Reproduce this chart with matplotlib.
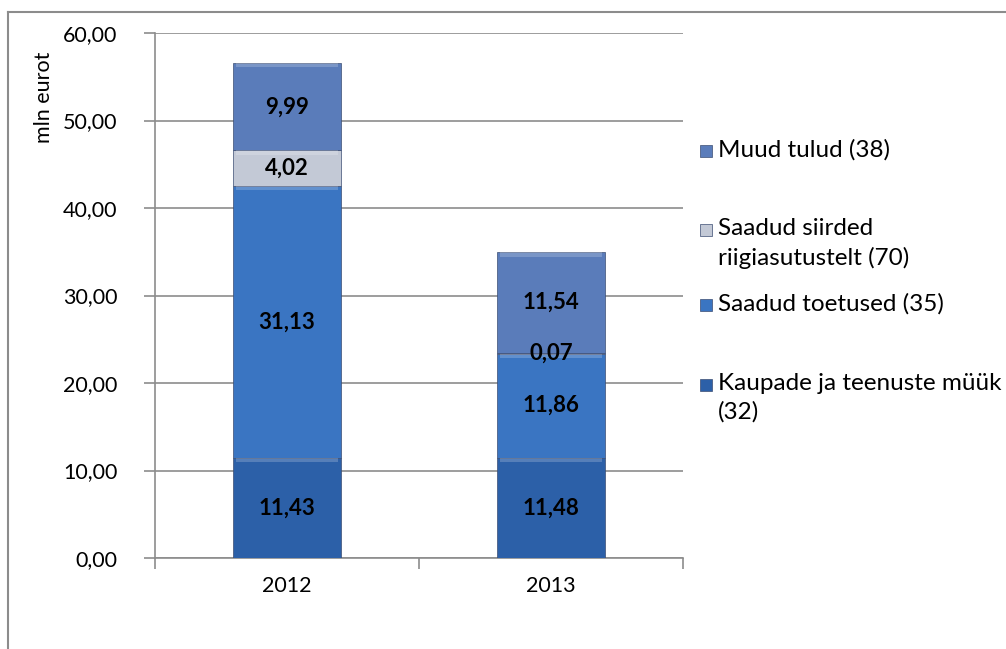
import matplotlib
matplotlib.use("Agg")
import matplotlib.pyplot as plt
import numpy as np
from matplotlib.patches import Rectangle

plt.rcParams['font.family'] = ['Lato', 'DejaVu Sans']

years = ["2012", "2013"]
series_names = [
    "Kaupade ja teenuste müük\n(32)",
    "Saadud toetused (35)",
    "Saadud siirded\nriigiasutustelt (70)",
    "Muud tulud (38)",
]
kaupade = [11.43, 11.48]
toetused = [31.13, 11.86]
siirded = [4.02, 0.07]
muud = [9.99, 11.54]
values = [kaupade, toetused, siirded, muud]
colors = ["#2c60a8", "#3a75c2", "#c3c9d6", "#5a7cba"]
yticks = [0, 10, 20, 30, 40, 50, 60]

W, H = 1006, 649
fig = plt.figure(figsize=(W / 100, H / 100), dpi=100)
ax = fig.add_axes([155 / W, 1 - 558 / H, (683 - 155) / W, (558 - 33) / H])

x = np.arange(len(years))
bottom = np.zeros(len(years))
bar_w = 0.41
for vals, col in zip(values, colors):
    bars = ax.bar(x, vals, bar_w, bottom=bottom, color=col,
                  edgecolor="#3b4d72", linewidth=0.5, zorder=3)
    for rect, v in zip(bars, vals):
        # soft bevel highlight along the top of each segment
        hx, hy = rect.get_x(), rect.get_y() + rect.get_height()
        hh = min(0.5, rect.get_height() * 0.3)
        ax.add_patch(Rectangle((hx + 0.01, hy - hh), rect.get_width() - 0.02, hh,
                               facecolor="white", alpha=0.2, linewidth=0, zorder=4))
        ax.text(rect.get_x() + rect.get_width() / 2, rect.get_y() + rect.get_height() / 2,
                f"{v:.2f}".replace(".", ","), ha="center", va="center",
                fontsize=16, fontweight="bold", color="black", zorder=5)
    bottom += np.array(vals)

ax.set_xlim(-0.5, 1.5)
ax.set_ylim(0, 60)
ax.set_yticks(yticks)
ax.set_yticklabels([f"{t:.2f}".replace(".", ",") for t in yticks], fontsize=15.5)
ax.set_xticks(x)
ax.set_xticklabels(years, fontsize=15.5)
ax.tick_params(axis="x", length=0, pad=13)
ax.set_xticks([-0.5, 0.5, 1.5], minor=True)
ax.tick_params(axis="x", which="minor", length=8, color="#8c8c8c", width=1.2)
ax.tick_params(axis="y", length=8, color="#8c8c8c", width=1.2, pad=19)
ax.yaxis.grid(True, color="#8c8c8c", linewidth=1.2, zorder=0)
ax.set_axisbelow(True)
for s in ["top", "right"]:
    ax.spines[s].set_visible(False)
for s in ["left", "bottom"]:
    ax.spines[s].set_color("#8c8c8c")
    ax.spines[s].set_linewidth(1.2)

fig.text(44 / W, 1 - 97 / H, "mln eurot", rotation=90, ha="center", va="center", fontsize=15.5)

# legend, top entry first
legend_y = [151, 230, 305, 385]
for name, col, ly in zip(series_names[::-1], colors[::-1], legend_y):
    fig.patches.append(Rectangle((700 / W, 1 - (ly + 6) / H), 12 / W, 12 / H,
                                 facecolor=col, edgecolor="#3b4d72", linewidth=0.5,
                                 transform=fig.transFigure, figure=fig))
    fig.text(718 / W, 1 - (ly - 12) / H, name, ha="left", va="top", fontsize=17.5,
             linespacing=1.42)

# outer chart frame
fig.add_artist(plt.Line2D([8 / W, 8 / W], [0, 1 - 12 / H], color="#8c8c8c", linewidth=1.5))
fig.add_artist(plt.Line2D([8 / W, 1], [1 - 12 / H, 1 - 12 / H], color="#8c8c8c", linewidth=1.5))

fig.savefig("out.png", dpi=100)
